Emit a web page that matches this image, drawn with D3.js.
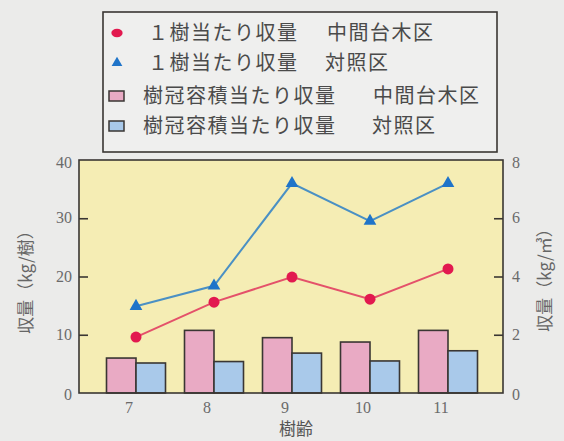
<!DOCTYPE html>
<html><head><meta charset="utf-8">
<script src="https://cdn.jsdelivr.net/npm/d3@7"></script>
<style>html,body{margin:0;padding:0;background:#ebebea;}svg{display:block;}</style>
</head><body>
<script>
const ages = ["7","8","9","10","11"];
const perTreeStock = [9.6, 15.6, 19.9, 16.1, 21.3];   // 1樹当たり収量 中間台木区 (kg/樹)
const perTreeControl = [14.9, 18.4, 36.0, 29.5, 36.0]; // 1樹当たり収量 対照区 (kg/樹)
const perVolStock = [1.2, 2.15, 1.9, 1.75, 2.15];      // 樹冠容積当たり収量 中間台木区 (kg/m3)
const perVolControl = [1.03, 1.08, 1.37, 1.1, 1.45];   // 樹冠容積当たり収量 対照区 (kg/m3)
const leftTicks = [0, 10, 20, 30, 40];
const rightTicks = [0, 2, 4, 6, 8];
const legendItems = [
  ["１樹当たり収量", "中間台木区"],
  ["１樹当たり収量", "対照区"],
  ["樹冠容積当たり収量", "中間台木区"],
  ["樹冠容積当たり収量", "対照区"]
];

const W = 564, H = 441;
const plot = {l: 79, r: 503, t: 160, b: 393};
const svg = d3.select("body").append("svg").attr("width", W).attr("height", H);
const jp = "'Noto Sans CJK JP', 'Noto Sans', sans-serif";
const serif = "'Liberation Serif', 'DejaVu Serif', serif";

const x = d3.scalePoint().domain(ages).range([136, 448]);
const yL = d3.scaleLinear().domain([0, 40]).range([plot.b, plot.t]);
const yR = d3.scaleLinear().domain([0, 8]).range([plot.b, plot.t]);
const bw = 29.5;

const cRed = "#e2194f", cRedLine = "#e4516a";
const cBlue = "#1f74c9", cBlueLine = "#4a90c4";
const cPink = "#e9aac4", cLBlue = "#a9c9ea";
const edge = "#3a3633";

// plot background
svg.append("rect").attr("x", plot.l).attr("y", plot.t).attr("width", plot.r - plot.l).attr("height", plot.b - plot.t)
  .attr("fill", "#f5edb4");

// bars
const g = svg.append("g");
g.selectAll(".bp").data(ages).enter().append("rect")
  .attr("x", d => x(d) - bw).attr("y", (d, i) => yR(perVolStock[i]))
  .attr("width", bw).attr("height", (d, i) => plot.b - yR(perVolStock[i]))
  .attr("fill", cPink).attr("stroke", edge).attr("stroke-width", 1.6);
g.selectAll(".bb").data(ages).enter().append("rect")
  .attr("x", d => x(d)).attr("y", (d, i) => yR(perVolControl[i]))
  .attr("width", bw).attr("height", (d, i) => plot.b - yR(perVolControl[i]))
  .attr("fill", cLBlue).attr("stroke", edge).attr("stroke-width", 1.6);

// frame
svg.append("rect").attr("x", plot.l).attr("y", plot.t).attr("width", plot.r - plot.l).attr("height", plot.b - plot.t)
  .attr("fill", "none").attr("stroke", edge).attr("stroke-width", 1.6);

// axes (ticks inside)
const axL = d3.axisRight(yL).tickValues(leftTicks.filter(v => v > 0 && v < 40)).tickSize(9).tickFormat("");
svg.append("g").attr("transform", `translate(${plot.l},0)`).call(axL)
  .call(s => s.select(".domain").remove())
  .call(s => s.selectAll("line").attr("stroke", edge).attr("stroke-width", 1.6));
const axR = d3.axisLeft(yR).tickValues(rightTicks.filter(v => v > 0 && v < 8)).tickSize(9).tickFormat("");
svg.append("g").attr("transform", `translate(${plot.r},0)`).call(axR)
  .call(s => s.select(".domain").remove())
  .call(s => s.selectAll("line").attr("stroke", edge).attr("stroke-width", 1.6));

// tick labels
svg.selectAll(".tl").data(leftTicks).enter().append("text")
  .attr("x", 72).attr("y", d => yL(d) + 5 + (d === 0 ? 2 : 0) + (d === 40 ? 3 : 0)).attr("text-anchor", "end")
  .attr("font-family", serif).attr("font-size", 16).attr("fill", "#6a6a6a").text(d => d);
svg.selectAll(".tr").data(rightTicks).enter().append("text")
  .attr("x", 512).attr("y", d => yR(d) + 5 + (d === 0 ? 2 : 0) + (d === 8 ? 3 : 0)).attr("text-anchor", "start")
  .attr("font-family", serif).attr("font-size", 16).attr("fill", "#6a6a6a").text(d => d);
svg.selectAll(".tx").data(ages).enter().append("text")
  .attr("x", d => x(d) - 7).attr("y", 413).attr("text-anchor", "middle")
  .attr("font-family", serif).attr("font-size", 16).attr("fill", "#6a6a6a").text(d => d);

// axis titles
svg.append("text").attr("transform", "translate(32,278) rotate(-90)").attr("text-anchor", "middle")
  .attr("font-family", jp).attr("font-size", 17).attr("fill", "#666").text("収量（kg/樹）");
svg.append("text").attr("transform", "translate(551,276) rotate(-90)").attr("text-anchor", "middle")
  .attr("font-family", jp).attr("font-size", 17).attr("fill", "#666").text("収量（kg/㎥）");
svg.append("text").attr("x", 296).attr("y", 435).attr("text-anchor", "middle")
  .attr("font-family", jp).attr("font-size", 17).attr("fill", "#555").text("樹齢");

// lines
const line = d3.line().x(d => d[0]).y(d => d[1]);
const redPts = ages.map((a, i) => [x(a), yL(perTreeStock[i])]);
const bluePts = ages.map((a, i) => [x(a), yL(perTreeControl[i])]);
svg.append("path").attr("d", line(bluePts)).attr("fill", "none").attr("stroke", cBlueLine).attr("stroke-width", 2);
svg.append("path").attr("d", line(redPts)).attr("fill", "none").attr("stroke", cRedLine).attr("stroke-width", 2);
svg.selectAll(".rp").data(redPts).enter().append("circle")
  .attr("cx", d => d[0]).attr("cy", d => d[1]).attr("r", 5.5).attr("fill", cRed);
const tri = d3.symbol().type(d3.symbolTriangle).size(70);
svg.selectAll(".bpnt").data(bluePts).enter().append("path")
  .attr("transform", d => `translate(${d[0]},${d[1]})`).attr("d", tri).attr("fill", cBlue);

// legend
svg.append("rect").attr("x", 103).attr("y", 12).attr("width", 394).attr("height", 140)
  .attr("fill", "#efefee").attr("stroke", "#3a3633").attr("stroke-width", 1.6);
const rowsY = [33, 63, 96, 126];
const lg = svg.append("g");
lg.append("path").attr("transform", `translate(117,${rowsY[0]}) scale(1.35,1)`)
  .attr("d", d3.symbol().type(d3.symbolCircle).size(55)).attr("fill", cRed);
lg.append("path").attr("transform", `translate(117,${rowsY[1]})`)
  .attr("d", d3.symbol().type(d3.symbolTriangle).size(50)).attr("fill", cBlue);
lg.append("rect").attr("x", 109).attr("y", rowsY[2] - 5).attr("width", 15).attr("height", 10)
  .attr("fill", cPink).attr("stroke", edge).attr("stroke-width", 1.5);
lg.append("rect").attr("x", 109).attr("y", rowsY[3] - 5).attr("width", 15).attr("height", 10)
  .attr("fill", cLBlue).attr("stroke", edge).attr("stroke-width", 1.5);
const textX1 = [148, 148, 143, 143];
const textX2 = [327, 325, 373, 372];
legendItems.forEach((it, i) => {
  lg.append("text").attr("x", textX1[i]).attr("y", rowsY[i] + 7)
    .attr("font-family", jp).attr("font-size", 20).attr("letter-spacing", 1.5).attr("fill", "#4a4a4a").text(it[0]);
  lg.append("text").attr("x", textX2[i]).attr("y", rowsY[i] + 7)
    .attr("font-family", jp).attr("font-size", 20).attr("letter-spacing", 1.5).attr("fill", "#4a4a4a").text(it[1]);
});
</script>
</body></html>
